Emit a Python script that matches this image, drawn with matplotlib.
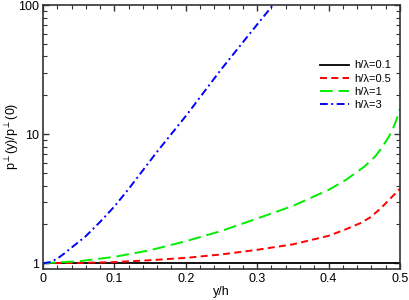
import matplotlib
matplotlib.use("Agg")
import matplotlib.pyplot as plt
from matplotlib.ticker import FixedLocator, NullFormatter, LogLocator

plt.rcParams['font.family'] = ['Liberation Sans', 'DejaVu Sans']
plt.rcParams['mathtext.fontset'] = 'custom'
plt.rcParams['mathtext.rm'] = 'Liberation Sans'
plt.rcParams['mathtext.it'] = 'Liberation Sans:italic'

# data
x_black = [0.0, 0.1, 0.2, 0.3, 0.4, 0.5]
y_black = [1.0, 1.0, 1.0, 1.0, 1.0, 1.0]

x_red = [0.0, 0.05, 0.1, 0.15, 0.2, 0.25, 0.3, 0.35, 0.4, 0.425, 0.445, 0.458, 0.472, 0.486, 0.5]
y_red = [1.0, 1.005, 1.02, 1.055, 1.10, 1.17, 1.27, 1.40, 1.63, 1.84, 2.05, 2.26, 2.63, 3.15, 3.78]

x_green = [0.0, 0.05, 0.1, 0.15, 0.2, 0.25, 0.3, 0.35, 0.4, 0.425, 0.45, 0.465, 0.475, 0.485, 0.49, 0.495, 0.5]
y_green = [1.0, 1.035, 1.12, 1.26, 1.48, 1.78, 2.22, 2.78, 3.7, 4.45, 5.6, 6.7, 7.9, 9.7, 11.0, 12.9, 15.7]

x_blue = [0.0, 0.01, 0.02, 0.03, 0.04, 0.06, 0.08, 0.1, 0.12, 0.14, 0.16, 0.2, 0.25, 0.3, 0.325]
y_blue = [1.0, 1.02, 1.084, 1.19, 1.32, 1.62, 2.09, 2.75, 3.76, 5.25, 7.33, 13.8, 32.0, 70.8, 104.7]

labels = ['h/λ=0.1', 'h/λ=0.5', 'h/λ=1', 'h/λ=3']
x_ticks = [0, 0.1, 0.2, 0.3, 0.4, 0.5]
x_ticklabels = ['0', '0.1', '0.2', '0.3', '0.4', '0.5']
y_ticks = [1, 10, 100]
y_ticklabels = ['1', '10', '100']

fig = plt.figure(figsize=(4.09, 3.0), dpi=100)
ax = fig.add_axes([0.105, 0.105, 0.873, 0.878])

ax.plot(x_black, y_black, color='black', lw=1.3, ls='-', label=labels[0])
ax.plot(x_red, y_red, color='#ff0000', lw=1.4, ls=(0, (3.6, 2.2)), label=labels[1])
ax.plot(x_green, y_green, color='#00ee00', lw=1.4, ls=(0, (6.5, 3)), label=labels[2])
ax.plot(x_blue, y_blue, color='#0000ff', lw=1.4, ls=(0, (4, 1.8, 1, 1.8)), label=labels[3])

ax.set_yscale('log')
ax.set_xlim(0, 0.5)
ax.set_ylim(0.91, 100)

ax.set_xticks(x_ticks)
ax.set_xticklabels(x_ticklabels)
ax.xaxis.set_minor_locator(FixedLocator([i * 0.02 for i in range(26)]))
ax.set_yticks(y_ticks)
ax.set_yticklabels(y_ticklabels)
ax.yaxis.set_minor_locator(LogLocator(base=10, subs=range(2, 10)))
ax.yaxis.set_minor_formatter(NullFormatter())

ax.tick_params(which='both', direction='in', top=True, right=True, labelsize=9,
               color='#333333')
ax.tick_params(which='major', length=4.3, width=1.0, pad=3)
ax.tick_params(which='minor', length=2.6, width=0.8)
for s in ax.spines.values():
    s.set_color('#333333')
    s.set_linewidth(1.2)

ax.set_xlabel('y/h', fontsize=9, labelpad=1)
ax.set_ylabel(r'p$^{\perp}$(y)/p$^{\perp}$(0)', fontsize=9)
ax.yaxis.set_label_coords(-0.062, 0.5)

leg = ax.legend(loc='upper right', bbox_to_anchor=(0.995, 0.815), frameon=False,
                fontsize=8, handlelength=2.6, handletextpad=0.5,
                labelspacing=0.28, borderaxespad=0.2)

fig.savefig('out.png', dpi=100)
